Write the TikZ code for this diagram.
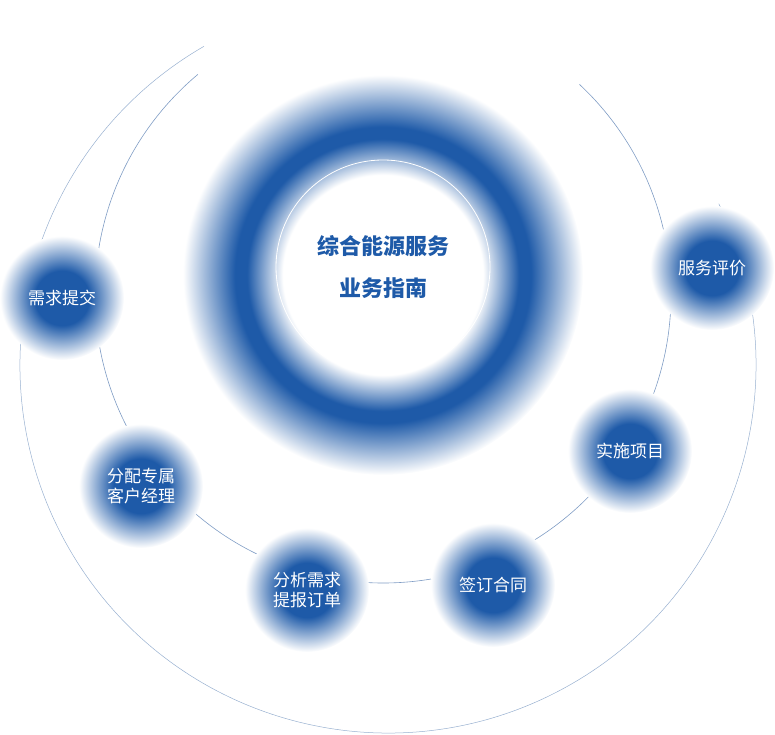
\documentclass[tikz,border=0pt]{standalone}
\usepackage{xcolor}
\usepackage{fontspec}
\usepackage{tikz}
\usetikzlibrary{positioning}
\newfontfamily\cjk{Noto Sans CJK SC}
\definecolor{blu}{HTML}{1E5AA8}
\definecolor{arccolor}{HTML}{7F9CC4}
\pgfdeclareradialshading{ball}{\pgfpoint{0bp}{0bp}}{color(0bp)=(blu); color(11bp)=(blu); color(25bp)=(white); color(50bp)=(white)}
\pgfdeclareradialshading{ring}{\pgfpoint{0bp}{0bp}}{color(0bp)=(white); color(12.5bp)=(white); color(17bp)=(blu); color(18.5bp)=(blu); color(25bp)=(white); color(50bp)=(white)}

\begin{document}
\begin{tikzpicture}[x=1pt, y=1pt, font=\cjk,
  step ball/.style={circle, minimum size=124pt, shading=ball, text=white, font=\cjk\fontsize{17}{23}\selectfont, align=center}]
  \useasboundingbox (0,0) rectangle (775,734);
  % Orbits
  \draw[arccolor, line width=0.6pt] (383,439) ++(130:288) arc (130:407:288);
  \draw[arccolor!80, line width=0.5pt] (388,369) ++(120:368) arc (120:386:368);
  % Center ring
  \node[circle, minimum size=400pt, shading=ring] (ring) at (383,459) {};
  \draw[white, line width=0.8pt] (383,467) circle (107);
  \node[text=blu, font=\cjk\bfseries\fontsize{22}{42}\selectfont, align=center] (title) at (383,467) {综合能源服务\\业务指南};
  % Steps
  \node[step ball] (submit) at (62,436) {需求提交};
  \node[step ball] (manager) at (141,248) {分配专属\\[-3pt]客户经理};
  \node[step ball] (analyse) at (307,144) {分析需求\\[-3pt]提报订单};
  \node[step ball] (contract) at (493,149) {签订合同};
  \node[step ball] (implement) at (630,283) {实施项目};
  \node[step ball] (review) at (712,466) {服务评价};
\end{tikzpicture}
\end{document}
